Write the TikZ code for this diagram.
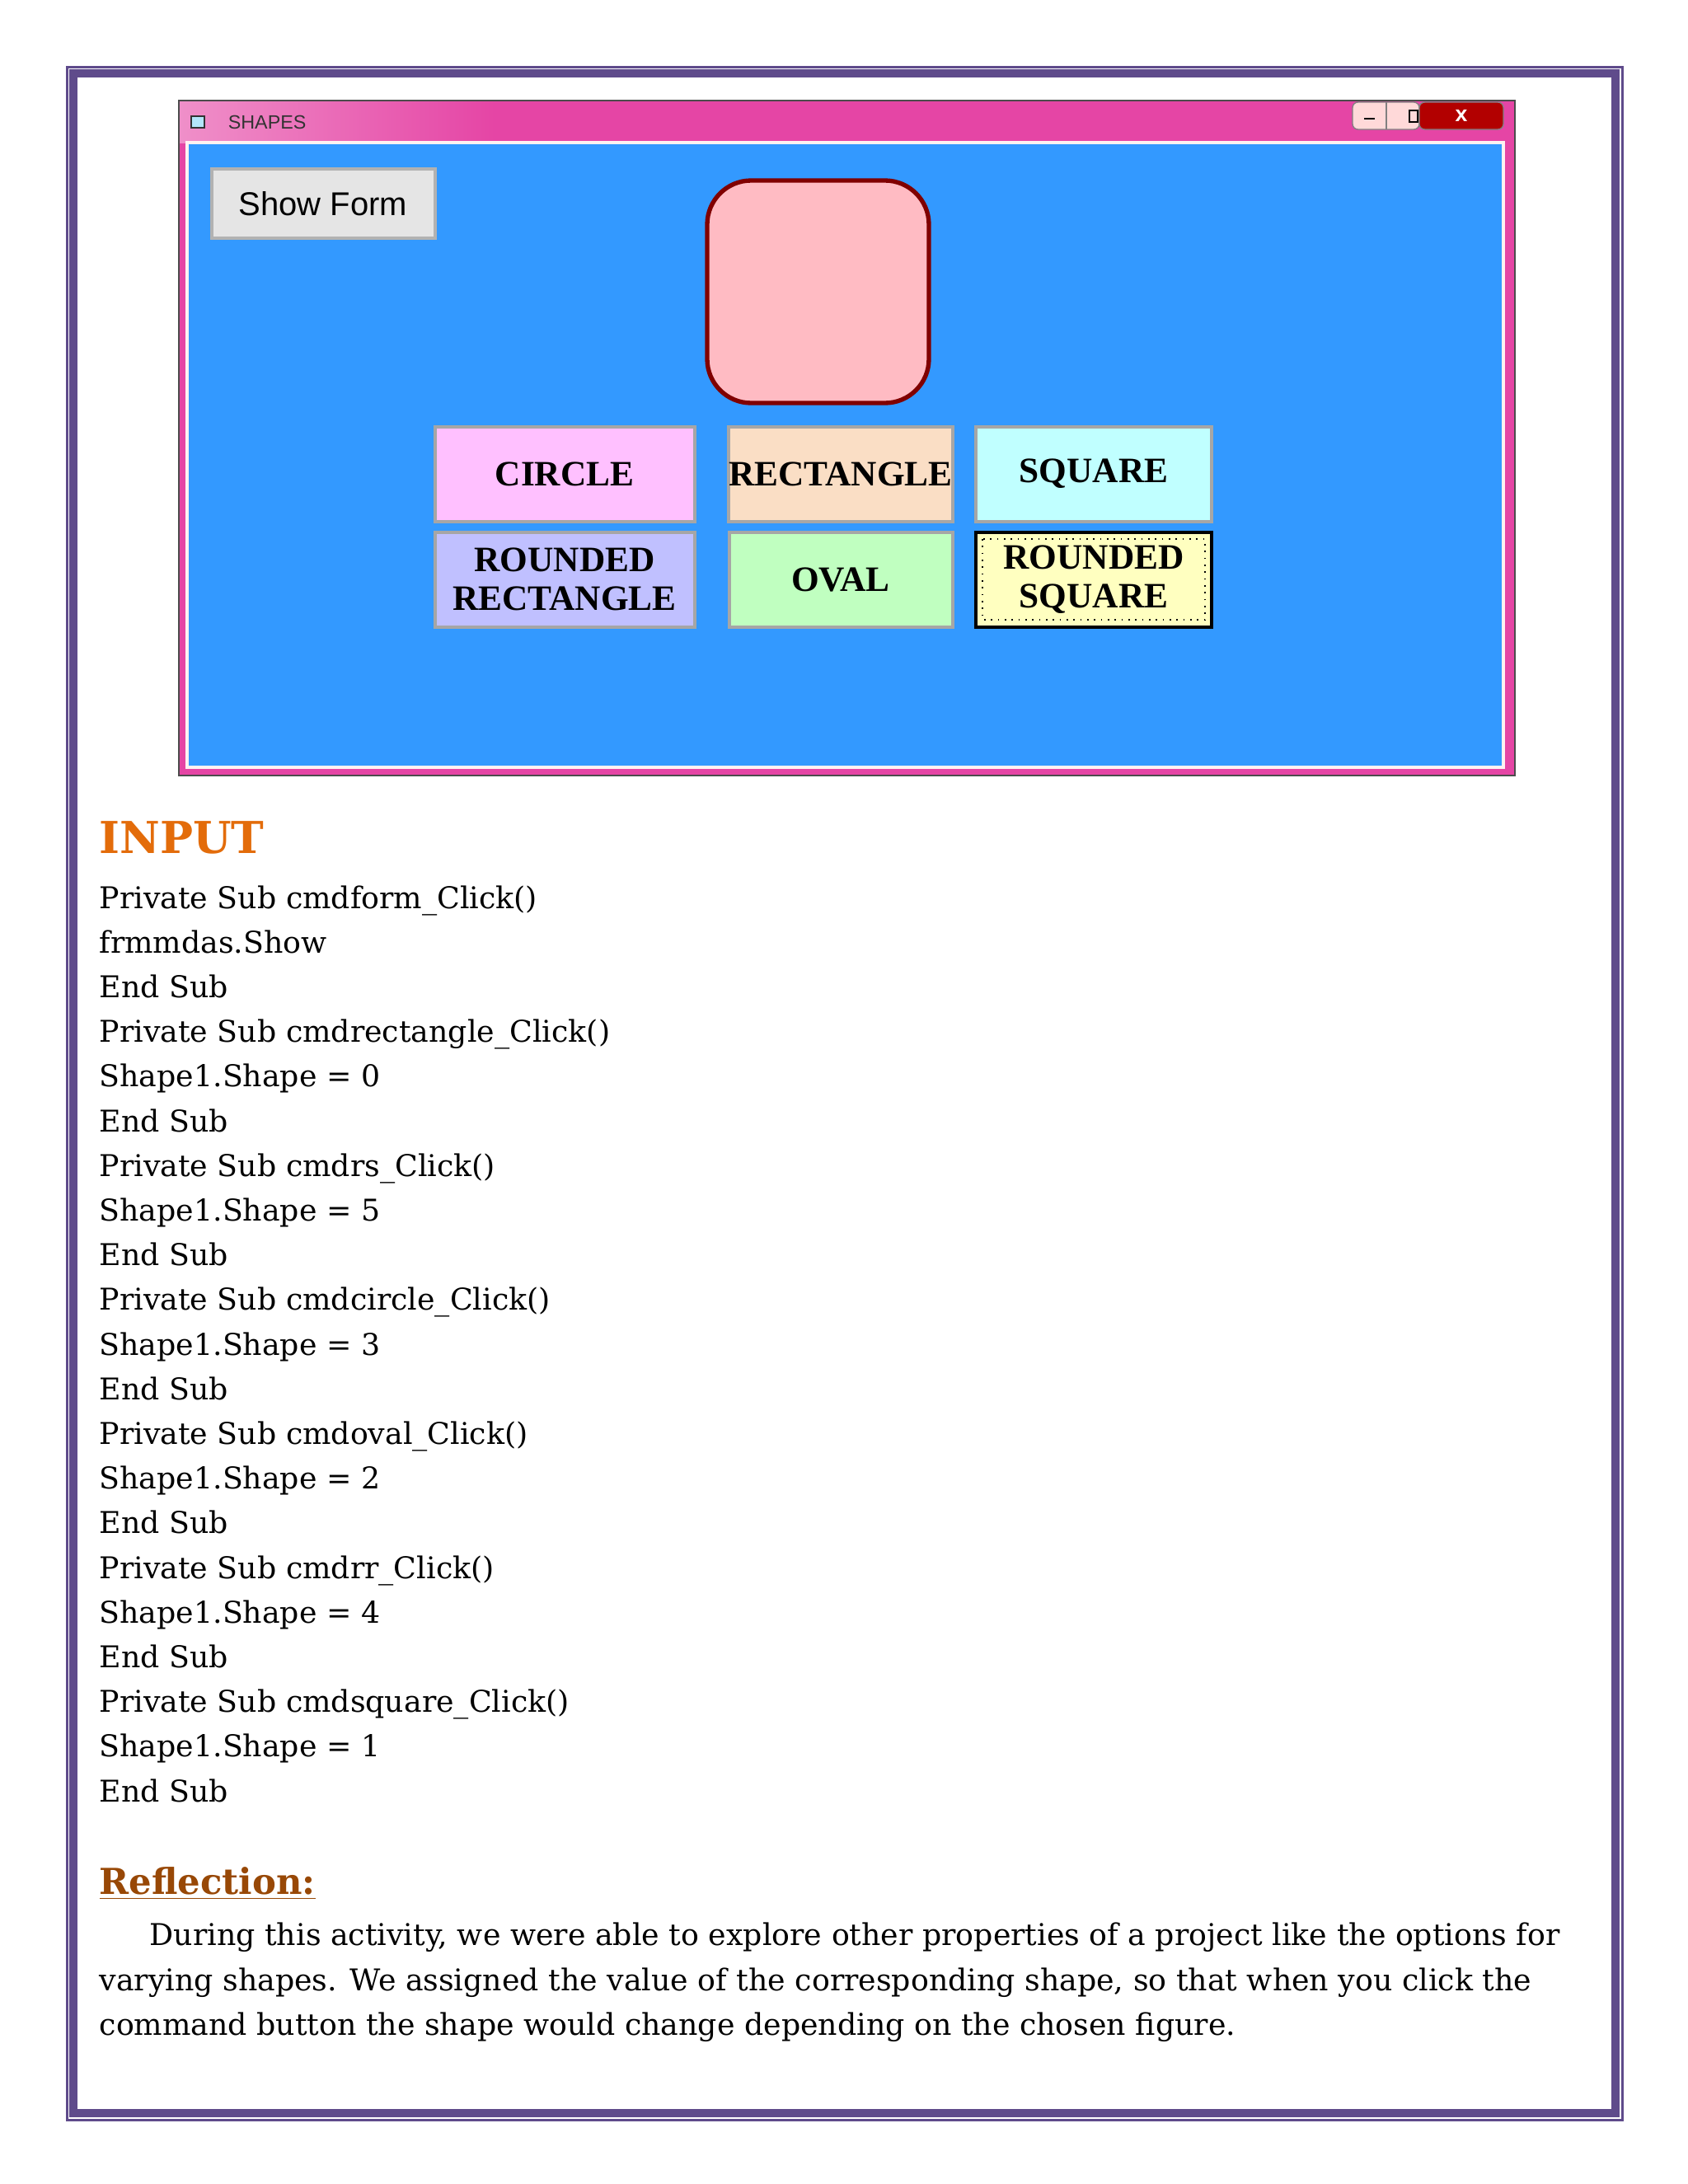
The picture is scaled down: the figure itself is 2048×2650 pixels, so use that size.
\documentclass[tikz,border=0pt]{standalone}
\usepackage{fontspec}
\setmainfont{DejaVu Serif}
\newfontfamily\btnfont{Liberation Serif}
\newfontfamily\sansf{Liberation Sans}
\begin{document}
\begin{tikzpicture}[x=0.3pt,y=-0.3pt,
  btn/.style={draw=gray!70,line width=1.2pt,inner sep=0pt,font=\btnfont\bfseries\fontsize{13}{14}\selectfont,align=center},
  code/.style={anchor=base west,inner sep=0pt,font=\fontsize{10.9}{13}\selectfont},
  para/.style={anchor=base west,inner sep=0pt,font=\fontsize{10.9}{13}\selectfont}]
\definecolor{frame}{HTML}{5F4B8B}
\definecolor{winpink}{HTML}{E545A5}
\definecolor{formblue}{HTML}{3399FF}
\useasboundingbox (0,0) rectangle (2048,2650);
\fill[white] (0,0) rectangle (2048,2650);
% page frame
\draw[frame,line width=0.9pt] (81,81) rectangle (1968,2572);
\draw[frame,line width=3pt] (89,89) rectangle (1960,2564);
% window
\fill[winpink] (217,122) rectangle (1838,941);
\shade[left color=winpink!60,right color=winpink] (217,122) rectangle (600,173);
\draw[black!70,line width=0.8pt] (217,122) rectangle (1838,941);
\node[anchor=west,font=\sansf\fontsize{7}{8}\selectfont,text=black!80] (title) at (265,148) {SHAPES};
\draw[black!80,fill=cyan!30] (232,141) rectangle (248,155);
\fill[formblue] (227,173) rectangle (1824,931);
\draw[white!80!pink,line width=1pt] (227,173) rectangle (1824,931);
% title buttons
\draw[gray,fill=pink!60,rounded corners=2pt] (1641,124) rectangle (1722,157);
\draw[gray] (1682,124) -- (1682,157);
\draw[gray,fill=red!70!black,rounded corners=2pt] (1722,124) rectangle (1824,157);
\node[text=white,font=\sansf\bfseries\fontsize{8}{8}\selectfont] (xb) at (1773,140) {x};
\draw[black,line width=0.8pt] (1655,144) -- (1668,144);
\draw[black,line width=0.6pt] (1710,134) rectangle (1720,148);
% show form
\node[draw=gray!60,fill=gray!20,line width=1.2pt,minimum width=271*0.3pt,minimum height=84*0.3pt,font=\sansf\fontsize{12}{14}\selectfont] (show) at (392,247) {Show Form};
% shape
\draw[fill={rgb,255:red,255;green,187;blue,195},draw={rgb,255:red,128;green,0;blue,0},line width=1.6pt,rounded corners=16pt] (858,219) rectangle (1127,489);
% buttons
\node[btn,fill={rgb,255:red,255;green,192;blue,255},minimum width=315*0.3pt,minimum height=115*0.3pt] (circle) at (685,575) {CIRCLE};
\node[btn,fill={rgb,255:red,250;green,222;blue,197},minimum width=271*0.3pt,minimum height=115*0.3pt] (rect) at (1020,575) {RECTANGLE};
\node[btn,fill={rgb,255:red,192;green,255;blue,255},minimum width=286*0.3pt,minimum height=115*0.3pt] (square) at (1327,575) {SQUARE};
\node[btn,fill={rgb,255:red,192;green,192;blue,255},minimum width=315*0.3pt,minimum height=115*0.3pt] (rr) at (685,703) {ROUNDED\\RECTANGLE};
\node[btn,fill={rgb,255:red,192;green,255;blue,192},minimum width=271*0.3pt,minimum height=115*0.3pt] (oval) at (1020,703) {OVAL};
\node[btn,draw=black,fill={rgb,255:red,255;green,255;blue,192},minimum width=286*0.3pt,minimum height=115*0.3pt] (rs) at (1327,703) {ROUNDED\\SQUARE};
\draw[black,dotted,line width=0.5pt] (1192,654) rectangle (1462,752);
% INPUT
\node[anchor=base west,inner sep=0pt,text={rgb,255:red,227;green,108;blue,10},font=\bfseries\fontsize{16}{18}\selectfont] (input) at (120,1035) {INPUT};
\foreach \t [count=\i from 0] in {Private Sub cmdform\_Click(),frmmdas.Show,End Sub,Private Sub cmdrectangle\_Click(),Shape1.Shape = 0,End Sub,Private Sub cmdrs\_Click(),Shape1.Shape = 5,End Sub,Private Sub cmdcircle\_Click(),Shape1.Shape = 3,End Sub,Private Sub cmdoval\_Click(),Shape1.Shape = 2,End Sub,Private Sub cmdrr\_Click(),Shape1.Shape = 4,End Sub,Private Sub cmdsquare\_Click(),Shape1.Shape = 1,End Sub}
  \node[code] (c\i) at (120,1102+54.2*\i) {\t};
\node[anchor=base west,inner sep=0pt,text={rgb,255:red,152;green,72;blue,6},font=\bfseries\fontsize{13}{16}\selectfont] (refl) at (120,2298) {\underline{Reflection:}};
\node[para] (p1) at (181,2360) {During this activity, we were able to explore other properties of a project like the options for};
\node[para] (p2) at (120,2415) {varying shapes. We assigned the value of the corresponding shape, so that when you click the};
\node[para] (p3) at (120,2469) {command button the shape would change depending on the chosen figure.};
\end{tikzpicture}
\end{document}
